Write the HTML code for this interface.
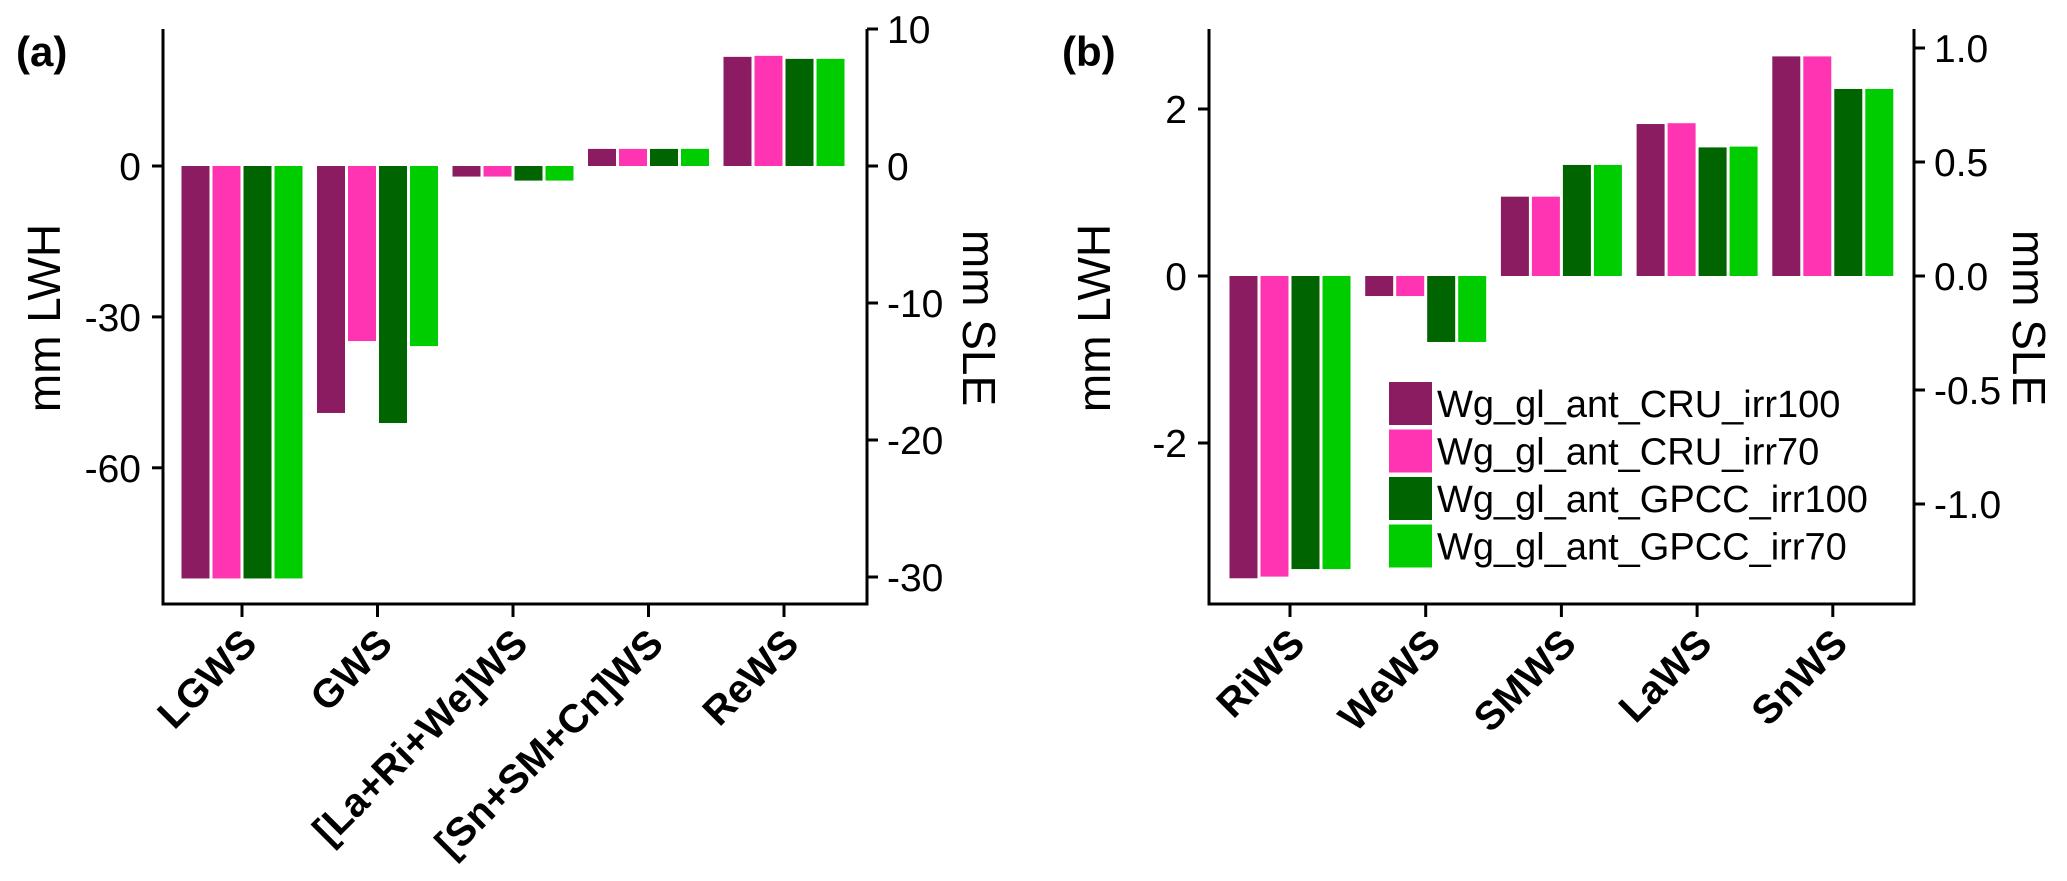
<!DOCTYPE html>
<html><head><meta charset="utf-8"><style>
html,body{margin:0;padding:0;background:#fff;}
svg{display:block;font-family:"Liberation Sans",Arial,sans-serif;}
</style></head><body>
<svg id="fig" width="2067" height="881" viewBox="0 0 2067 881" xmlns="http://www.w3.org/2000/svg"></svg>
<script>
const seriesNames = ["Wg_gl_ant_CRU_irr100","Wg_gl_ant_CRU_irr70","Wg_gl_ant_GPCC_irr100","Wg_gl_ant_GPCC_irr70"];
const seriesColors = ["#8B1C62","#FF34B3","#006400","#00CD00"];

const catsA = ["LGWS","GWS","[La+Ri+We]WS","[Sn+SM+Cn]WS","ReWS"];
const cru100A = [-82, -49.1, -2.1, 3.4, 21.7];
const cru70A  = [-82, -34.8, -2.1, 3.4, 21.9];
const gpcc100A= [-82, -51.1, -2.9, 3.4, 21.3];
const gpcc70A = [-82, -35.8, -2.9, 3.4, 21.3];
const leftTicksA = [0,-30,-60];
const rightTicksA = [10,0,-10,-20,-30];

const catsB = ["RiWS","WeWS","SMWS","LaWS","SnWS"];
const cru100B = [-3.62, -0.24, 0.95, 1.82, 2.63];
const cru70B  = [-3.60, -0.24, 0.95, 1.83, 2.63];
const gpcc100B= [-3.51, -0.79, 1.33, 1.54, 2.24];
const gpcc70B = [-3.51, -0.79, 1.33, 1.55, 2.24];
const leftTicksB = [2,0,-2];
const rightTicksB = ["1.0","0.5","0.0","-0.5","-1.0"];

const NS="http://www.w3.org/2000/svg";
const svg=document.getElementById('fig');
function mk(tag,attrs,parent,txt){const e=document.createElementNS(NS,tag);for(const k in attrs)e.setAttribute(k,attrs[k]);if(txt!==undefined)e.textContent=txt;(parent||svg).appendChild(e);return e;}

function panel(cfg){
  const g=mk('g',{});
  
  
  const yL=v=>cfg.zeroY - v*cfg.pxL;
  const yR=v=>cfg.zeroY - v*cfg.pxR;
  const xC=i=>cfg.x0 + cfg.firstTick + i*cfg.step;
  const series=[cfg.s0,cfg.s1,cfg.s2,cfg.s3];
  for(let s=0;s<4;s++){
    for(let i=0;i<cfg.cats.length;i++){
      const v=series[s][i];
      const x=xC(i)-62+s*31+1.5;
      const y0=yL(0), y1=yL(v);
      const r=mk('rect',{x:x,y:Math.min(y0,y1),width:28,height:Math.abs(y1-y0),fill:seriesColors[s]},g);
      
      
    }
  }
  const ax=mk('path',{d:`M${cfg.x0} ${cfg.top} V${cfg.bottom} H${cfg.x1} V${cfg.top}`,fill:'none',stroke:'#000','stroke-width':3},g);
  
  
  cfg.lt.forEach(v=>{
    const y=yL(v);
    mk('line',{x1:cfg.x0-11,x2:cfg.x0,y1:y,y2:y,stroke:'#000','stroke-width':3},g);
    const t=mk('text',{x:cfg.x0-22,y:y+14,'text-anchor':'end','font-size':39},g,String(v));
    
    
  });
  cfg.rt.forEach(v=>{
    const y=yR(parseFloat(v));
    mk('line',{x1:cfg.x1,x2:cfg.x1+11,y1:y,y2:y,stroke:'#000','stroke-width':3},g);
    const t=mk('text',{x:cfg.x1+20,y:y+14,'text-anchor':'start','font-size':39},g,String(v));
    
    
  });
  cfg.cats.forEach((c,i)=>{
    const x=xC(i);
    mk('line',{x1:x,x2:x,y1:cfg.bottom,y2:cfg.bottom+13,stroke:'#000','stroke-width':3},g);
    const t=mk('text',{x:0,y:0,'text-anchor':'end','font-size':40,'font-weight':'bold',transform:`translate(${x+17},${cfg.bottom+42}) rotate(-45)`},g,c);
    
    
  });
  const yl=mk('text',{x:0,y:0,'text-anchor':'middle','font-size':46,transform:`translate(${cfg.ylx},318) rotate(-90)`},g,'mm LWH');
  
  
  const yr=mk('text',{x:0,y:0,'text-anchor':'middle','font-size':46,transform:`translate(${cfg.yrx},318) rotate(90)`},g,'mm SLE');
  
  
  const pl=mk('text',{x:cfg.labX,y:66,'font-size':42,'font-weight':'bold'},g,cfg.label);
  
  
}

panel({name:'panel-a',label:'(a)',labX:16,x0:163,x1:867,top:29,bottom:604,zeroY:166,pxL:5.03,pxR:13.7,
  firstTick:79,step:135.5,cats:catsA,s0:cru100A,s1:cru70A,s2:gpcc100A,s3:gpcc70A,
  lt:leftTicksA,rt:rightTicksA,ylx:60,yrx:963});
panel({name:'panel-b',label:'(b)',labX:1062,x0:1209,x1:1914,top:29,bottom:604,zeroY:276,pxL:83.5,pxR:228,
  firstTick:81,step:135.7,cats:catsB,s0:cru100B,s1:cru70B,s2:gpcc100B,s3:gpcc70B,
  lt:leftTicksB,rt:rightTicksB,ylx:1110,yrx:2013});

const lg=mk('g',{});


seriesNames.forEach((n,i)=>{
  const y=382+i*47.5;
  const r=mk('rect',{x:1389,y:y,width:43,height:43,fill:seriesColors[i]},lg);
  
  
  const t=mk('text',{x:1437,y:y+35,'font-size':38},lg,n);
  
  
});
</script>
</body></html>
